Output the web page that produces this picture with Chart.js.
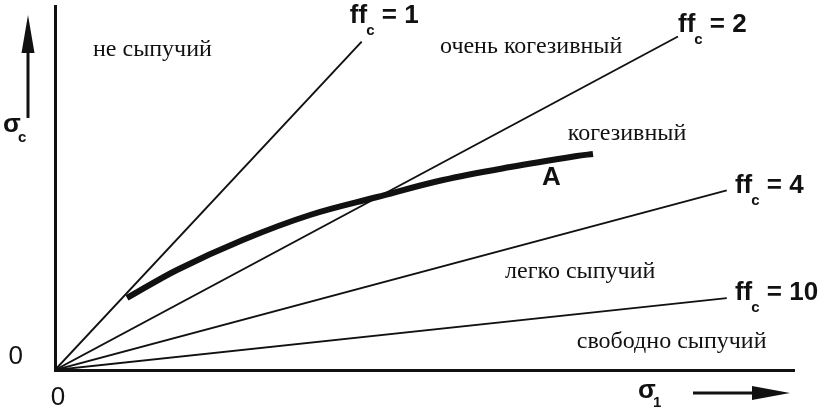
<!DOCTYPE html>
<html><head><meta charset="utf-8">
<script src="https://cdn.jsdelivr.net/npm/chart.js@4"></script>
<style>html,body{margin:0;padding:0;background:#fff}canvas{display:block}</style>
</head><body>
<canvas id="c" width="821" height="408"></canvas>
<script>
// ---- data ----
const ffLevels = [1, 2, 4, 10];
const ffEndX = [41.5, 84.3, 90.9, 90.9];
const ffEndY = [41.5, 42.15, 22.7, 9.09];
const curveAx = [9.74, 16.5, 25.4, 34.5, 43.6, 52.5, 61.6, 70.6, 72.8];
const curveAy = [9.10, 12.64, 16.43, 19.59, 21.86, 24.01, 25.65, 27.04, 27.30];
const xTicks = [0];
const yTicks = [0];
const regionNames = ['не сыпучий', 'очень когезивный', 'когезивный', 'легко сыпучий', 'свободно сыпучий'];
const curveName = 'A';

// ---- annotation anchors (data coordinates) ----
const regionAnchors = [[5.14, 39.68], [52.1, 40.06], [69.4, 29.07], [60.9, 11.63], [70.6, 2.78]];
const ffAnchors = [[39.9, 43.85], [84.3, 42.71], [92.0, 22.37], [92.0, 8.85]];
const curveAnchor = [65.9, 23.38];

const datasets = ffLevels.map((f, i) => ({
  label: 'ffc = ' + f,
  data: [{x: 0, y: 0}, {x: ffEndX[i], y: ffEndY[i]}],
  showLine: true, borderColor: '#111', borderWidth: 1.9, pointRadius: 0, fill: false
}));
datasets.push({
  label: curveName,
  data: curveAx.map((x, i) => ({x, y: curveAy[i]})),
  showLine: true, borderColor: '#111', borderWidth: 6, pointRadius: 0, tension: 0.35,
  borderCapStyle: 'butt', fill: false
});

const SANS = '"Liberation Sans", Arial, sans-serif';
const SERIF = '"Liberation Serif", "Times New Roman", serif';

const annot = {
  id: 'annot',
  afterDraw(chart) {
    const ctx = chart.ctx, xs = chart.scales.x, ys = chart.scales.y;
    const px = v => xs.getPixelForValue(v), py = v => ys.getPixelForValue(v);
    ctx.save();
    ctx.fillStyle = '#111';
    ctx.textBaseline = 'alphabetic';
    ctx.textAlign = 'left';
    ctx.font = '24px ' + SERIF;
    regionNames.forEach((t, i) => ctx.fillText(t, px(regionAnchors[i][0]), py(regionAnchors[i][1])));
    ffLevels.forEach((f, i) => {
      let x = px(ffAnchors[i][0]); const y = py(ffAnchors[i][1]);
      ctx.font = 'bold 26px ' + SANS;
      ctx.fillText('ff', x, y);
      x += ctx.measureText('ff').width - 1;
      ctx.font = 'bold 15px ' + SANS;
      ctx.fillText('c', x, y + 12);
      x += ctx.measureText('c').width;
      ctx.font = 'bold 26px ' + SANS;
      ctx.fillText(' = ' + f, x, y);
    });
    ctx.font = 'bold 26px ' + SANS;
    ctx.fillText(curveName, px(curveAnchor[0]), py(curveAnchor[1]));
    ctx.font = 'bold 26px ' + SANS;
    ctx.fillText('σ', 3, 132);
    ctx.font = 'bold 15px ' + SANS;
    ctx.fillText('c', 18, 142);
    ctx.font = 'bold 26px ' + SANS;
    ctx.fillText('σ', 638, 398);
    ctx.font = 'bold 15px ' + SANS;
    ctx.fillText('1', 653, 407);
    ctx.strokeStyle = '#111'; ctx.lineWidth = 3;
    ctx.beginPath(); ctx.moveTo(28, 118); ctx.lineTo(28, 50); ctx.stroke();
    ctx.beginPath(); ctx.moveTo(28, 15); ctx.lineTo(34.5, 53); ctx.lineTo(21.5, 53); ctx.closePath(); ctx.fill();
    ctx.beginPath(); ctx.moveTo(693, 393); ctx.lineTo(756, 393); ctx.stroke();
    ctx.beginPath(); ctx.moveTo(790, 393); ctx.lineTo(752, 386); ctx.lineTo(752, 400); ctx.closePath(); ctx.fill();
    ctx.restore();
  }
};

const zeroPad = s => { s.paddingTop = 0; s.paddingBottom = 0; s.paddingLeft = 0; s.paddingRight = 0; };

new Chart(document.getElementById('c'), {
  type: 'scatter',
  data: { datasets },
  options: {
    responsive: false, animation: false,
    layout: { padding: { top: 6, right: 27, left: 0, bottom: 0 } },
    plugins: { legend: { display: false }, tooltip: { enabled: false } },
    scales: {
      x: {
        type: 'linear', min: 0, max: 100,
        grid: { display: false, drawTicks: false },
        border: { display: true, color: '#111', width: 3 },
        afterBuildTicks: s => { s.ticks = xTicks.map(v => ({value: v})); },
        afterFit: s => { s.height = 38; zeroPad(s); },
        ticks: { color: '#111', font: { family: SANS, size: 26 }, padding: 12, labelOffset: 3, maxRotation: 0 }
      },
      y: {
        type: 'linear', min: 0, max: 46,
        grid: { display: false, drawTicks: false },
        border: { display: true, color: '#111', width: 3 },
        afterBuildTicks: s => { s.ticks = yTicks.map(v => ({value: v})); },
        afterFit: s => { s.width = 55; zeroPad(s); },
        ticks: { color: '#111', font: { family: SANS, size: 26 }, padding: 32, labelOffset: -13 }
      }
    }
  },
  plugins: [annot]
});
</script>
</body></html>
